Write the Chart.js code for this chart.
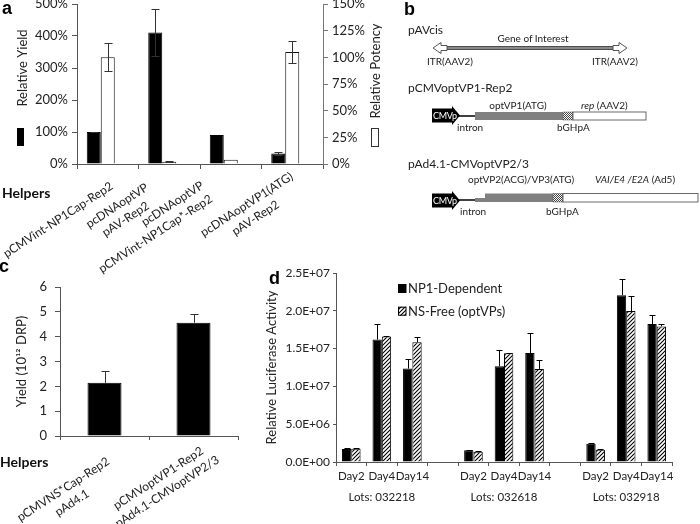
<!DOCTYPE html>
<html><head><meta charset="utf-8">
<script src="https://cdn.jsdelivr.net/npm/chart.js@4"></script>
<style>
html,body{margin:0;padding:0;background:#fff;}
#wrap{position:relative;width:700px;height:524px;overflow:hidden;background:#fff;}
.cv{position:absolute;}
</style></head>
<body><div id="wrap">
<div class="cv" style="left:0;top:-10px;"><canvas id="ca" width="400" height="300"></canvas></div>
<div class="cv" style="left:0;top:270px;"><canvas id="cc" width="250" height="254"></canvas></div>
<div class="cv" style="left:250px;top:262px;"><canvas id="cd" width="450" height="262"></canvas></div>
<svg width="700" height="524" style="position:absolute;left:0;top:0;pointer-events:none" font-family="Lato, 'Open Sans', sans-serif">
<defs><pattern id="chk" width="2" height="2" patternUnits="userSpaceOnUse"><rect width="2" height="2" fill="#fff"/><rect width="1" height="1" fill="#444"/><rect x="1" y="1" width="1" height="1" fill="#444"/></pattern></defs>
<g font-family="'Liberation Sans', Arial, sans-serif" font-weight="bold" font-size="18" fill="#000">
<text x="2" y="14">a</text><text x="404" y="15">b</text><text x="-1" y="272">c</text><text x="269" y="284">d</text></g>
<g font-weight="bold" font-size="14" fill="#111"><text x="2" y="198">Helpers</text><text x="0" y="467">Helpers</text></g>
<g fill="#222">
<text x="408" y="34" font-size="12">pAVcis</text>
<text x="533" y="42" font-size="10" text-anchor="middle">Gene of Interest</text>
<rect x="446" y="46.5" width="168" height="3" fill="#888" stroke="#333" stroke-width="0.8"/>
<polygon points="433,48 441,42.5 441,45.5 447,45.5 447,50.5 441,50.5 441,53.5" fill="#fff" stroke="#444" stroke-width="0.9"/>
<polygon points="627,48 619,42.5 619,45.5 613,45.5 613,50.5 619,50.5 619,53.5" fill="#fff" stroke="#444" stroke-width="0.9"/>
<text x="427" y="65" font-size="10">ITR(AAV2)</text>
<text x="592" y="65" font-size="10">ITR(AAV2)</text>
<text x="408" y="92" font-size="12">pCMVoptVP1-Rep2</text>
<polygon points="432,108.5 452,108.5 452,106 460,115.5 452,125 452,122.5 432,122.5" fill="#000"/>
<text x="433" y="119" font-size="9" fill="#fff" letter-spacing="-0.3">CMVp</text>
<line x1="459" y1="116" x2="476" y2="116" stroke="#000" stroke-width="1.5"/>
<rect x="475" y="112" width="88" height="8" fill="#808080"/>
<rect x="563" y="112" width="10" height="8" fill="url(#chk)" stroke="#555" stroke-width="0.5"/>
<rect x="573" y="112" width="73" height="8" fill="#fff" stroke="#444" stroke-width="0.8"/>
<text x="518" y="109" font-size="10" text-anchor="middle">optVP1(ATG)</text>
<text x="581" y="109" font-size="10"><tspan font-style="italic">rep</tspan> (AAV2)</text>
<text x="457" y="131" font-size="10">intron</text>
<text x="557" y="131" font-size="10">bGHpA</text>
<text x="408" y="168" font-size="12">pAd4.1-CMVoptVP2/3</text>
<text x="468" y="183" font-size="10">optVP2(ACG)/VP3(ATG)</text>
<text x="595" y="183" font-size="10"><tspan font-style="italic">VAI/E4 /E2A</tspan> (Ad5)</text>
<polygon points="432,193.5 452,193.5 452,191 460,200.5 452,210 452,207.5 432,207.5" fill="#000"/>
<text x="433" y="204" font-size="9" fill="#fff" letter-spacing="-0.3">CMVp</text>
<line x1="459" y1="200" x2="476" y2="200" stroke="#000" stroke-width="1.5"/>
<rect x="475" y="198" width="10" height="4" fill="#808080"/>
<rect x="485" y="193.5" width="68" height="8.5" fill="#808080"/>
<rect x="553" y="193.5" width="10" height="8.5" fill="url(#chk)" stroke="#555" stroke-width="0.5"/>
<rect x="563" y="193.5" width="135" height="8.5" fill="#fff" stroke="#444" stroke-width="0.8"/>
<text x="460" y="215" font-size="10">intron</text>
<text x="546" y="215" font-size="10">bGHpA</text>
</g>
</svg>
</div>
<script>
// ---------- DATA ----------
// Panel a
const helperLabelsA = [['pCMVint-NP1Cap-Rep2'], ['pcDNAoptVP','pAV-Rep2'], ['pcDNAoptVP','pCMVint-NP1Cap*-Rep2'], ['pcDNAoptVP1(ATG)','pAV-Rep2']];
const yieldA = [100, 411, 91, 33];
const yieldErrA = [1.5, 72, 0, 5];
const potencyA = [100, 2, 4, 105];
const potencyErrA = [13, 0.5, 0, 10];
// Panel c
const helperLabelsC = [['pCMVNS*Cap-Rep2','pAd4.1'], ['pCMVoptVP1-Rep2','pAd4.1-CMVoptVP2/3']];
const yieldC = [2.14, 4.56];
const yieldErrC = [0.47, 0.36];
// Panel d
const dayLabels = ['Day2','Day4','Day14'];
const lotLabels = ['Lots: 032218','Lots: 032618','Lots: 032918'];
const np1Dependent = [1.71e6, 1.62e7, 1.236e7, null, 1.54e6, 1.266e7, 1.442e7, null, 2.42e6, 2.207e7, 1.824e7];
const np1Err       = [0.12e6, 2.05e6, 1.27e6, null, 0.05e6, 2.2e6, 2.64e6, null, 0.05e6, 2.2e6, 1.2e6];
const nsFree       = [1.76e6, 1.66e7, 1.583e7, null, 1.36e6, 1.438e7, 1.231e7, null, 1.63e6, 1.996e7, 1.793e7];
const nsFreeErr    = [0.08e6, 0.05e6, 0.7e6, null, 0.05e6, 0.05e6, 1.19e6, null, 0.05e6, 2.05e6, 0.3e6];

// ---------- helpers ----------
const FONT = "Lato, 'Open Sans', sans-serif";
const errorBarPlugin = {
  id:'errbars',
  afterDatasetsDraw(chart){
    const ctx = chart.ctx;
    chart.data.datasets.forEach((ds,di)=>{
      if(!ds.errors) return;
      const meta = chart.getDatasetMeta(di);
      const ys = chart.scales[meta.yAxisID];
      meta.data.forEach((bar,i)=>{
        const v = ds.data[i], e = ds.errors[i];
        if(v==null || !e) return;
        const x = Math.round(bar.x)+0.5;
        const yTop = Math.round(ys.getPixelForValue(v+e))+0.5;
        const yBot = ds.errDir==='both' ? Math.round(ys.getPixelForValue(Math.max(0,v-e)))+0.5 : bar.y;
        const cw = ds.capWidth || 8;
        ctx.save(); ctx.strokeStyle = ds.errColor || '#000'; ctx.lineWidth = 1;
        ctx.beginPath();
        ctx.moveTo(x,yTop); ctx.lineTo(x,yBot);
        ctx.moveTo(x-cw/2,yTop); ctx.lineTo(x+cw/2,yTop);
        if(ds.errDir==='both'){ ctx.moveTo(x-cw/2,yBot); ctx.lineTo(x+cw/2,yBot); }
        ctx.stroke(); ctx.restore();
      });
    });
  }
};
// rotated multi-line category labels; anchor = right-middle of the text block
function drawRotLabels(chart, labels, o){
  const ctx = chart.ctx, xs = chart.scales.x;
  const ang = o.angle*Math.PI/180;
  ctx.save(); ctx.font = o.font; ctx.fillStyle = o.color; ctx.textBaseline='middle';
  labels.forEach((lines,i)=>{
    const w = Math.max(...lines.map(l=>ctx.measureText(l).width));
    const h = lines.length*o.lh;
    const ax = xs.getPixelForValue(i) + o.dx[i];
    const ay = chart.chartArea.bottom + o.dy[i];
    const al = o.align[i];
    ctx.save(); ctx.translate(ax,ay); ctx.rotate(-ang);
    ctx.textAlign = al==='right' ? 'right' : 'center';
    lines.forEach((ln,j)=>ctx.fillText(ln, al==='right' ? 0 : -w/2, -h/2 + o.lh*(j+0.5)));
    ctx.restore();
  });
  ctx.restore();
}
function vText(ctx, txt, x, y, font, color){
  ctx.save(); ctx.translate(x,y); ctx.rotate(-Math.PI/2);
  ctx.font = font; ctx.fillStyle = color; ctx.textAlign='center'; ctx.textBaseline='middle';
  ctx.fillText(txt,0,0); ctx.restore();
}
function sci(v){
  if(v===0) return '0.0E+00';
  const e = Math.floor(Math.log10(v)+1e-9); const m = v/Math.pow(10,e);
  return m.toFixed(1)+'E+'+String(e).padStart(2,'0');
}
function hatchPattern(){
  const c = document.createElement('canvas'); c.width=4; c.height=4;
  const g = c.getContext('2d'); g.fillStyle='#fff'; g.fillRect(0,0,4,4);
  g.strokeStyle='#000'; g.lineWidth=1.1;
  g.beginPath(); g.moveTo(0,4); g.lineTo(4,0); g.moveTo(-1,1); g.lineTo(1,-1); g.moveTo(3,5); g.lineTo(5,3); g.stroke();
  return g.createPattern(c,'repeat');
}
const axisGrey = '#555';
const tickFont = {family:FONT, size:13};

// ---------- Panel a ----------
const aDecor = {
  id:'aDecor',
  afterDraw(chart){
    const ctx = chart.ctx;
    vText(ctx,'Relative Yield', 23, 78, '13px '+FONT, '#222');
    ctx.fillStyle = chart.data.datasets[0].backgroundColor; ctx.fillRect(17,138,7,18);
    vText(ctx,'Relative Potency', 376, 81, '13px '+FONT, '#222');
    ctx.fillStyle='#fff'; ctx.fillRect(371,138,7,18);
    ctx.strokeStyle='#333'; ctx.lineWidth=1; ctx.strokeRect(371.5,138.5,7,18);
    drawRotLabels(chart, helperLabelsA, {angle:33, font:'12px '+FONT, color:'#222', lh:16,
      dx:[4,-18,-24,4], dy:[21,29,27,18], align:['center','center','right','center']});
  }
};
new Chart(document.getElementById('ca'), {
  type:'bar',
  data:{
    labels: helperLabelsA.map(l=>l.join(' ')),
    datasets:[
      {label:'Relative Yield', data:yieldA, errors:yieldErrA, errDir:'both', capWidth:8, errColor:'#333', yAxisID:'y', backgroundColor:'#000', borderColor:'#000', borderWidth:1},
      {label:'Relative Potency', data:potencyA, errors:potencyErrA, errDir:'both', capWidth:8, errColor:'#333', yAxisID:'y2', backgroundColor:'#fff', borderColor:'#111', borderWidth:1},
      {label:'', data:helperLabelsA.map(()=>null), yAxisID:'y'}
    ]
  },
  options:{
    responsive:false, animation:false,
    layout:{padding:{top:14,left:0,right:0,bottom:0}},
    datasets:{bar:{categoryPercentage:0.683, barPercentage:1}},
    plugins:{legend:{display:false}, tooltip:{enabled:false}},
    scales:{
      x:{ticks:{display:false}, grid:{offset:true, drawOnChartArea:false, tickLength:5, color:axisGrey}, border:{color:axisGrey}, afterFit(s){s.height=126;}},
      y:{position:'left', min:0, max:500, ticks:{stepSize:100, callback:v=>v+'%', font:tickFont, color:'#222', padding:4}, grid:{drawOnChartArea:false, tickLength:5, color:axisGrey}, border:{color:axisGrey}, afterFit(s){s.width=77;}},
      y2:{position:'right', min:0, max:150, ticks:{stepSize:25, callback:v=>v+'%', font:tickFont, color:'#222', padding:4}, grid:{drawOnChartArea:false, tickLength:5, color:'#777'}, border:{color:'#777'}, afterFit(s){s.width=77;}}
    }
  },
  plugins:[errorBarPlugin, aDecor]
});

// ---------- Panel c ----------
const cDecor = {
  id:'cDecor',
  afterDraw(chart){
    drawRotLabels(chart, helperLabelsC, {angle:33, font:'12px '+FONT, color:'#222', lh:16,
      dx:[8,20], dy:[31,16], align:['center','center']});
  }
};
new Chart(document.getElementById('cc'), {
  type:'bar',
  data:{
    labels: helperLabelsC.map(l=>l.join(' ')),
    datasets:[{label:'Yield', data:yieldC, errors:yieldErrC, errDir:'up', capWidth:8, errColor:'#333', backgroundColor:'#000', borderColor:'#000', borderWidth:1}]
  },
  options:{
    responsive:false, animation:false,
    layout:{padding:{top:17,left:0,right:12,bottom:0}},
    datasets:{bar:{categoryPercentage:0.382, barPercentage:1}},
    plugins:{legend:{display:false}, tooltip:{enabled:false}},
    scales:{
      x:{ticks:{display:false}, grid:{offset:true, drawOnChartArea:false, tickLength:4, color:axisGrey}, border:{color:axisGrey}, afterFit(s){s.height=88;}},
      y:{min:0, max:6, ticks:{stepSize:1, font:tickFont, color:'#222', padding:8}, grid:{drawOnChartArea:false, tickLength:5, color:axisGrey}, border:{color:axisGrey},
         title:{display:true, text:'Yield (10¹² DRP)', font:{family:FONT, size:13}, color:'#222', padding:{top:14,bottom:0}}, afterFit(s){s.width=60;}}
    }
  },
  plugins:[errorBarPlugin, cDecor]
});

// ---------- Panel d ----------
const dLabels = [];
lotLabels.forEach((lot,li)=>{
  dayLabels.forEach((d,j)=>dLabels.push([d, j===1 ? lot : '']));
  if(li < lotLabels.length-1) dLabels.push(['','']);
});
const hatch = hatchPattern();
const dLegend = {
  id:'dLegend',
  afterDraw(chart){
    const ctx = chart.ctx, ca = chart.chartArea;
    const x = ca.left + 62;
    chart.data.datasets.forEach((ds,i)=>{
      const y = ca.top + 11 + i*22.7;
      ctx.fillStyle = ds.backgroundColor; ctx.fillRect(x, y, 8, 9);
      ctx.strokeStyle = '#000'; ctx.lineWidth = 1; ctx.strokeRect(x+0.5, y+0.5, 7.5, 8);
      ctx.fillStyle = '#222'; ctx.font = '13px '+FONT; ctx.textAlign='left'; ctx.textBaseline='middle';
      ctx.fillText(ds.label, x+10, y+5);
    });
  }
};
new Chart(document.getElementById('cd'), {
  type:'bar',
  data:{
    labels: dLabels,
    datasets:[
      {label:'NP1-Dependent', data:np1Dependent, errors:np1Err, errDir:'up', capWidth:6, backgroundColor:'#000', borderColor:'#000', borderWidth:1},
      {label:'NS-Free (optVPs)', data:nsFree, errors:nsFreeErr, errDir:'up', capWidth:6, backgroundColor:hatch, borderColor:'#000', borderWidth:1}
    ]
  },
  options:{
    responsive:false, animation:false,
    layout:{padding:{top:11,left:0,right:28,bottom:0}},
    datasets:{bar:{categoryPercentage:0.61, barPercentage:1}},
    plugins:{legend:{display:false}, tooltip:{enabled:false}},
    scales:{
      x:{ticks:{font:{family:FONT, size:11.5, lineHeight:1.83}, color:'#222', maxRotation:0, minRotation:0, autoSkip:false, padding:0},
         grid:{offset:true, drawOnChartArea:false, tickLength:4, color:axisGrey}, border:{color:axisGrey}, afterFit(s){s.height=62;}},
      y:{min:0, max:2.5e7, ticks:{stepSize:5e6, callback:v=>sci(v), font:{family:FONT, size:12}, color:'#222', padding:3}, grid:{drawOnChartArea:false, tickLength:3, color:axisGrey}, border:{color:axisGrey},
         title:{display:true, text:'Relative Luciferase Activity', font:{family:FONT, size:13}, color:'#222', padding:{top:14,bottom:0}}, afterFit(s){s.width=86;}}
    }
  },
  plugins:[errorBarPlugin, dLegend]
});
</script>
</body></html>
